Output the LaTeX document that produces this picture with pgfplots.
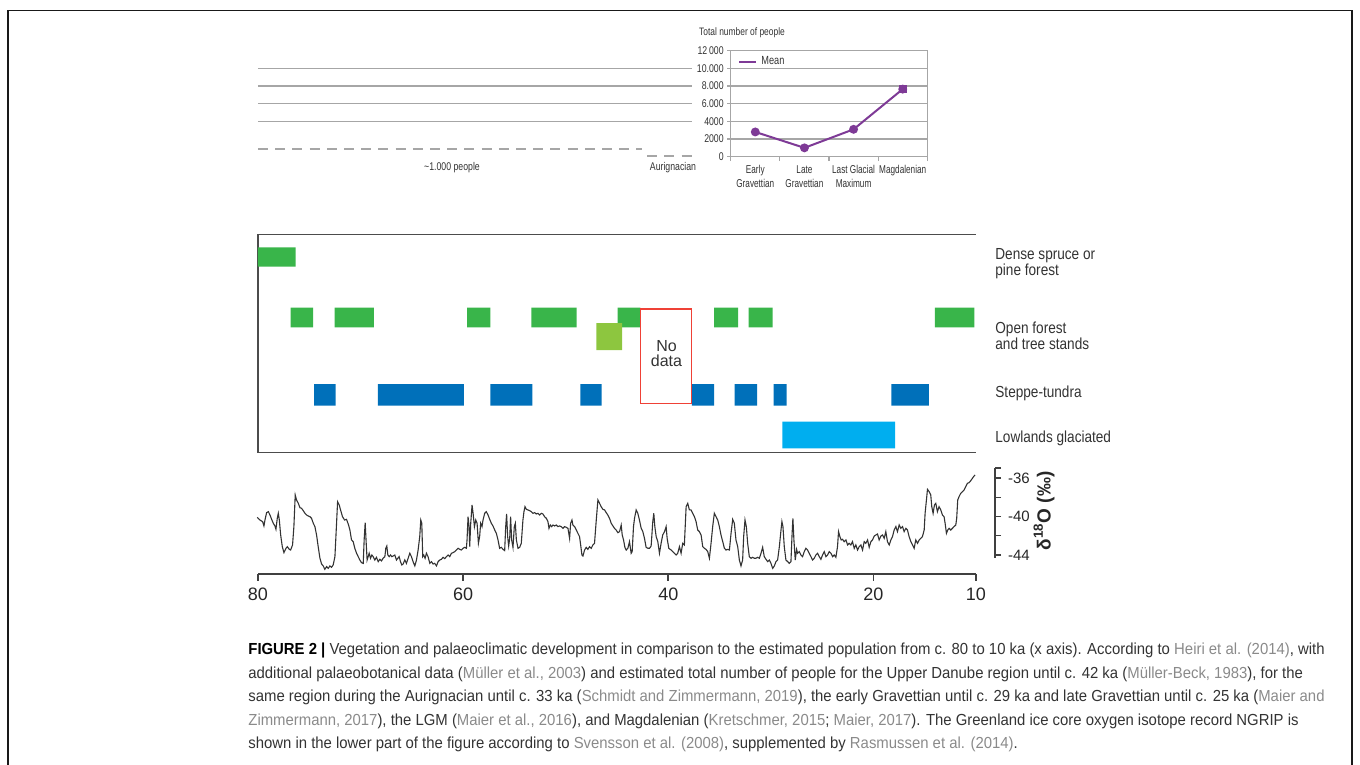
\documentclass[border=0pt]{standalone}
\usepackage{pgfplots}
\pgfplotsset{compat=1.18}
\usepackage{pgfplotstable}
\usepackage{graphicx}
\usepackage{fontspec}
\setmainfont{Liberation Sans}
\newfontfamily\narrowfont[FakeStretch=0.78]{Liberation Sans}
\newfontfamily\narrowerfont[FakeStretch=0.72]{Liberation Sans}
\newfontfamily\legfont[FakeStretch=0.85]{Liberation Sans}
\definecolor{gA}{HTML}{39B54A}
\definecolor{gL}{HTML}{8DC63F}
\definecolor{bS}{HTML}{0070BA}
\definecolor{bL}{HTML}{00AEEF}
\definecolor{rN}{HTML}{EF4136}
\definecolor{pM}{HTML}{7E3A96}
\definecolor{gl}{HTML}{A6A6A6}
\definecolor{tx}{HTML}{333333}
\definecolor{rg}{HTML}{8A8A8A}
\newcommand{\rf}[1]{\textcolor{rg}{#1}}
\newcommand{\vbar}[5]{\addplot[draw=none, fill=#1] coordinates {(#2,#4) (#3,#4) (#3,#5) (#2,#5) (#2,#4)};}

\pgfplotstableread{
t v
80.07 -40.07
79.81 -40.35
79.55 -40.52
79.42 -40.97
79.32 -40.35
79.16 -39.58
78.99 -39.48
78.83 -39.83
78.67 -40.28
78.51 -40.69
78.35 -40.97
78.25 -41.32
78.12 -40.17
78.02 -39.65
77.92 -40.35
77.79 -41.91
77.63 -43.13
77.47 -43.75
77.27 -43.30
77.14 -43.13
76.95 -43.41
76.82 -43.48
76.63 -42.95
76.50 -41.04
76.37 -37.74
76.24 -38.26
76.07 -38.61
75.91 -39.06
75.75 -39.13
75.59 -39.37
75.42 -39.65
75.26 -39.83
75.10 -39.93
74.94 -40.00
74.78 -40.17
74.61 -40.69
74.45 -41.04
74.29 -41.91
74.13 -43.13
73.96 -44.34
73.80 -44.94
73.64 -45.14
73.48 -45.49
73.31 -45.21
73.15 -45.39
72.99 -45.14
72.83 -45.28
72.67 -45.04
72.50 -44.17
72.34 -40.69
72.24 -38.44
72.08 -38.78
71.95 -39.30
71.76 -40.00
71.56 -40.35
71.37 -40.28
71.17 -40.87
71.04 -41.39
70.88 -42.43
70.72 -42.61
70.56 -43.30
70.39 -43.82
70.23 -44.17
70.07 -44.52
69.91 -44.80
69.74 -44.87
69.65 -42.43
69.55 -40.63
69.45 -42.78
69.36 -44.52
69.26 -44.17
69.16 -43.82
69.03 -44.34
68.90 -44.00
68.77 -44.17
68.61 -44.52
68.45 -44.24
68.28 -44.69
68.12 -44.45
67.96 -44.62
67.80 -44.34
67.63 -44.17
67.54 -43.30
67.44 -43.06
67.34 -44.00
67.21 -44.17
67.08 -44.00
66.95 -44.17
66.82 -44.10
66.66 -44.00
66.50 -44.52
66.37 -44.34
66.24 -44.17
66.11 -44.69
65.98 -45.04
65.85 -44.94
65.69 -44.52
65.53 -44.87
65.36 -44.34
65.20 -43.82
65.04 -44.17
64.88 -44.69
64.71 -45.14
64.55 -44.52
64.39 -43.48
64.23 -42.08
64.13 -40.35
64.03 -40.69
63.94 -44.17
63.84 -44.00
63.71 -44.34
63.58 -43.82
63.42 -44.17
63.25 -44.87
63.09 -44.69
62.93 -44.94
62.77 -44.87
62.60 -45.14
62.44 -44.69
62.28 -44.52
62.12 -44.45
61.96 -44.24
61.79 -44.38
61.63 -44.17
61.47 -44.00
61.31 -44.17
61.14 -43.82
60.98 -43.75
60.82 -43.65
60.66 -43.48
60.49 -43.30
60.33 -43.41
60.17 -43.48
60.01 -43.30
59.85 -43.20
59.68 -43.30
59.62 -42.43
59.52 -40.00
59.42 -41.04
59.36 -43.13
59.26 -40.69
59.13 -38.78
59.03 -39.65
58.90 -41.04
58.77 -40.35
58.64 -40.69
58.51 -42.78
58.39 -42.08
58.29 -40.69
58.16 -41.04
58.06 -40.35
57.90 -39.65
57.74 -39.48
57.57 -39.83
57.41 -40.28
57.25 -40.69
57.09 -40.97
56.92 -41.39
56.76 -41.74
56.60 -42.43
56.44 -43.30
56.28 -43.20
56.11 -43.41
55.95 -43.54
55.85 -41.04
55.76 -39.72
55.66 -42.08
55.56 -43.06
55.46 -42.26
55.37 -40.00
55.27 -42.43
55.14 -43.20
55.01 -41.04
54.91 -40.69
54.81 -42.43
54.65 -43.30
54.49 -43.20
54.33 -42.78
54.17 -40.35
54.07 -39.48
53.97 -38.96
53.84 -39.23
53.68 -39.30
53.52 -39.37
53.35 -39.48
53.19 -39.65
53.03 -39.58
52.87 -39.72
52.70 -39.65
52.54 -39.83
52.38 -39.65
52.22 -39.72
52.06 -40.00
51.89 -40.17
51.73 -40.52
51.63 -41.22
51.50 -40.87
51.37 -41.04
51.24 -40.87
51.08 -40.97
50.92 -40.87
50.76 -41.04
50.60 -40.97
50.43 -41.04
50.27 -41.22
50.11 -41.04
49.95 -41.11
49.78 -41.22
49.62 -42.26
49.52 -40.69
49.39 -40.35
49.30 -40.87
49.13 -41.04
48.97 -41.39
48.81 -41.74
48.65 -42.08
48.52 -43.13
48.42 -44.00
48.32 -44.10
48.16 -43.48
48.00 -43.20
47.84 -43.41
47.67 -43.13
47.51 -43.30
47.35 -42.95
47.19 -42.78
47.02 -40.35
46.86 -38.26
46.70 -38.61
46.54 -38.96
46.38 -39.23
46.21 -39.30
46.05 -39.58
45.89 -39.83
45.73 -40.17
45.56 -40.69
45.40 -40.97
45.24 -41.22
45.08 -41.39
44.91 -41.67
44.75 -41.56
44.59 -40.87
44.49 -41.91
44.36 -42.43
44.23 -43.20
44.10 -43.48
43.94 -43.30
43.78 -42.61
43.62 -43.82
43.52 -43.65
43.39 -41.04
43.29 -40.17
43.13 -39.30
42.97 -39.65
42.81 -40.35
42.64 -41.22
42.48 -41.56
42.32 -42.26
42.16 -43.20
41.99 -43.30
41.83 -43.30
41.67 -43.06
41.51 -40.52
41.41 -39.65
41.31 -41.04
41.18 -42.08
41.02 -42.61
40.86 -43.82
40.70 -42.78
40.54 -41.91
40.37 -41.56
40.21 -41.04
40.11 -42.26
39.95 -43.30
39.72 -43.48
39.56 -43.65
39.40 -43.82
39.24 -44.00
39.08 -43.82
38.91 -43.13
38.75 -43.82
38.59 -42.78
38.43 -42.95
38.26 -38.96
38.10 -38.61
37.94 -39.30
37.78 -39.30
37.62 -39.65
37.45 -40.00
37.29 -40.52
37.13 -41.39
36.97 -41.56
36.80 -41.91
36.64 -43.13
36.48 -43.30
36.32 -43.41
36.15 -43.65
35.99 -44.34
35.83 -42.78
35.67 -41.04
35.51 -39.65
35.34 -40.00
35.18 -40.35
35.02 -41.04
34.86 -41.91
34.69 -42.61
34.53 -43.30
34.37 -43.48
34.21 -43.41
34.04 -43.48
33.88 -41.74
33.72 -40.28
33.56 -40.69
33.40 -42.43
33.23 -43.13
33.07 -44.52
32.91 -45.14
32.75 -44.52
32.65 -42.08
32.52 -40.35
32.39 -41.04
32.26 -42.78
32.10 -44.17
31.93 -44.34
31.77 -44.24
31.61 -44.34
31.45 -44.34
31.28 -44.24
31.12 -44.34
30.96 -43.82
30.80 -43.20
30.64 -44.17
30.47 -44.45
30.31 -44.69
30.15 -44.52
29.99 -44.87
29.82 -45.39
29.66 -45.14
29.50 -44.69
29.34 -44.52
29.17 -43.13
29.01 -41.39
28.92 -40.52
28.82 -41.04
28.69 -43.13
28.53 -44.52
28.36 -44.69
28.20 -44.87
28.04 -44.69
27.94 -42.08
27.85 -40.17
27.75 -42.43
27.62 -44.52
27.49 -43.41
27.39 -43.82
27.23 -43.65
27.07 -44.00
26.91 -44.17
26.74 -43.65
26.58 -43.30
26.42 -43.48
26.26 -43.82
26.09 -44.17
25.93 -44.52
25.77 -44.34
25.61 -44.00
25.44 -43.82
25.28 -44.17
25.12 -44.45
24.96 -44.00
24.79 -43.65
24.63 -44.17
24.47 -44.00
24.31 -43.65
24.14 -43.82
23.98 -44.17
23.82 -44.00
23.66 -44.24
23.50 -43.13
23.40 -41.56
23.27 -42.08
23.14 -42.43
23.01 -42.36
22.85 -42.61
22.68 -42.43
22.52 -42.95
22.36 -42.78
22.20 -42.95
22.04 -42.61
21.87 -43.30
21.71 -42.95
21.55 -43.48
21.39 -43.13
21.22 -42.95
21.06 -43.48
20.90 -42.61
20.74 -42.78
20.57 -42.43
20.41 -43.20
20.25 -42.61
20.09 -42.43
19.92 -42.02
19.76 -41.91
19.60 -41.81
19.44 -42.43
19.27 -42.02
19.11 -41.91
18.95 -42.26
18.79 -41.56
18.63 -42.61
18.46 -42.95
18.30 -42.43
18.14 -42.08
17.98 -41.39
17.81 -41.04
17.65 -41.56
17.49 -40.87
17.33 -41.22
17.16 -41.04
17.00 -41.56
16.84 -41.22
16.68 -41.39
16.52 -42.08
16.35 -42.61
16.19 -42.95
16.03 -43.30
15.87 -42.43
15.70 -42.78
15.54 -42.43
15.38 -42.26
15.22 -42.08
15.05 -41.39
14.96 -39.65
14.83 -38.26
14.73 -37.15
14.57 -37.39
14.41 -37.74
14.31 -38.96
14.18 -39.65
14.05 -38.78
13.92 -38.61
13.76 -39.48
13.60 -38.96
13.43 -39.30
13.27 -39.83
13.11 -40.00
13.01 -40.69
12.88 -41.74
12.75 -41.39
12.62 -41.22
12.46 -41.39
12.30 -41.22
12.14 -41.04
11.97 -40.87
11.88 -40.17
11.78 -38.26
11.65 -37.91
11.49 -37.57
11.32 -37.39
11.16 -37.22
11.00 -36.87
10.84 -36.52
10.67 -36.45
10.51 -36.25
10.35 -36.00
10.19 -35.76
10.09 -35.65
}\iso

\newsavebox\capA
\newsavebox\capB
\newsavebox\capC
\newsavebox\capD
\newsavebox\capE

\begin{document}
\sbox\capA{\fontsize{8}{9}\selectfont\color{tx}\textbf{\textcolor{black}{FIGURE 2 |}} Vegetation and palaeoclimatic development in comparison to the estimated population from c. 80 to 10 ka (x axis). According to \rf{Heiri et al. (2014)}, with}%
\sbox\capB{\fontsize{8}{9}\selectfont\color{tx}additional palaeobotanical data (\rf{Müller et al., 2003}) and estimated total number of people for the Upper Danube region until c. 42 ka (\rf{Müller-Beck, 1983}), for the}%
\sbox\capC{\fontsize{8}{9}\selectfont\color{tx}same region during the Aurignacian until c. 33 ka (\rf{Schmidt and Zimmermann, 2019}), the early Gravettian until c. 29 ka and late Gravettian until c. 25 ka (\rf{Maier and}}%
\sbox\capD{\fontsize{8}{9}\selectfont\color{tx}\rf{Zimmermann, 2017}), the LGM (\rf{Maier et al., 2016}), and Magdalenian (\rf{Kretschmer, 2015}; \rf{Maier, 2017}). The Greenland ice core oxygen isotope record NGRIP is}%
\sbox\capE{\fontsize{8}{9}\selectfont\color{tx}shown in the lower part of the figure according to \rf{Svensson et al. (2008)}, supplemented by \rf{Rasmussen et al. (2014)}.}%
\dimen0=\wd\capA \advance\dimen0 by \wd\capB \advance\dimen0 by \wd\capC \advance\dimen0 by \wd\capD
\pgfmathsetmacro\capscale{2128.5/\the\dimen0}%
\begin{tikzpicture}
\useasboundingbox (0pt,0pt) rectangle (680pt,382.5pt);
\draw[line width=0.85pt, black!90] (4pt,-2.5pt) -- (4pt,377.25pt) -- (676pt,377.25pt) -- (676pt,-2.5pt);

% ---------- population, left extension ----------
\begin{axis}[at={(129pt,304.15pt)}, anchor=south west, scale only axis,
  width=220pt, height=53pt, xmin=37.16, xmax=80, x dir=reverse,
  ymin=0, ymax=12000, hide axis, clip=false]
\addplot[gl, line width=0.75pt] coordinates {(80,10000) (37.7,10000)};
\addplot[gl, line width=0.75pt] coordinates {(80,8000) (37.7,8000)};
\addplot[gl, line width=0.75pt] coordinates {(80,6000) (37.7,6000)};
\addplot[gl, line width=0.75pt] coordinates {(80,4000) (37.7,4000)};
\addplot[gl, line width=0.75pt, dash pattern=on 5pt off 3.6pt] coordinates {(80,870) (42.6,870)};
\addplot[gl, line width=0.75pt, dash pattern=on 5pt off 3.6pt] coordinates {(42.1,60) (37.16,60)};
\end{axis}
\node[font=\narrowfont\fontsize{5.6}{6}\selectfont, text=tx] at (226pt,298.5pt) {\textasciitilde1.000 people};
\node[font=\narrowfont\fontsize{5.6}{6}\selectfont, text=tx] at (336.5pt,298.5pt) {Aurignacian};
\node[font=\narrowfont\fontsize{5.4}{6}\selectfont, text=tx] at (371pt,366pt) {Total number of people};

% ---------- population inset ----------
\begin{axis}[at={(365.35pt,304.15pt)}, anchor=south west, scale only axis,
  width=98.3pt, height=53pt, xmin=-0.5, xmax=3.5, ymin=0, ymax=12000,
  scaled y ticks=false,
  axis line style={gl, line width=0.6pt},
  ymajorgrids, grid style={gl, line width=0.6pt},
  ytick={0,2000,4000,6000,8000,10000,12000},
  yticklabels={0,2000,4000,6.000,8.000,10.000,12\,000},
  y tick label style={font=\narrowfont\fontsize{5.6}{6}\selectfont, text=tx, inner xsep=1.5pt},
  xtick={0,1,2,3},
  xticklabels={Early\\Gravettian, Late\\Gravettian, Last Glacial\\Maximum, Magdalenian},
  x tick label style={align=center, font=\narrowerfont\fontsize{5.7}{7}\selectfont, text=tx, inner ysep=2.5pt},
  minor xtick={-0.5,0.5,1.5,2.5,3.5},
  tick pos=left, tick align=outside, major tick length=1.8pt, minor tick length=2.2pt,
  every major x tick/.append style={draw=none},
  every tick/.append style={gl, line width=0.6pt},
  legend style={at={(0.037,0.896)}, anchor=west, draw=none, fill=none, inner sep=0pt,
    font=\narrowfont\fontsize{5.9}{6}\selectfont, text=tx},
  legend image code/.code={\draw[#1] (0pt,0pt) -- (8.5pt,0pt);},
  clip=false]
\addplot[pM, line width=1pt, mark=*, mark size=1.7pt, forget plot]
  coordinates {(0,2800) (1,1000) (2,3100) (3,7650)};
\addplot[pM, only marks, mark=square*, mark size=1.8pt, forget plot]
  coordinates {(3,7650)};
\addlegendimage{pM, line width=1pt}
\addlegendentry{Mean}
\end{axis}

% ---------- vegetation ----------
\begin{axis}[at={(129pt,156.15pt)}, anchor=south west, scale only axis,
  width=359pt, height=109pt, xmin=10, xmax=80, x dir=reverse,
  ymin=0, ymax=10, hide axis, clip=false]
\draw[black!70, line width=0.75pt] (axis cs:10,10) -- (axis cs:80,10) -- (axis cs:80,0) -- (axis cs:10,0);
% dense spruce or pine forest
\vbar{gA}{80}{76.33}{8.53}{9.42}
% open forest
\vbar{gA}{76.82}{74.62}{5.75}{6.65}
\vbar{gA}{72.53}{68.71}{5.75}{6.65}
\vbar{gA}{59.62}{57.34}{5.75}{6.65}
\vbar{gA}{53.35}{48.94}{5.75}{6.65}
\vbar{gA}{44.95}{42.71}{5.75}{6.65}
\vbar{gA}{35.54}{33.20}{5.75}{6.65}
\vbar{gA}{32.17}{29.83}{5.75}{6.65}
\vbar{gA}{14.02}{10.16}{5.75}{6.65}
\vbar{gL}{47.00}{44.49}{4.71}{5.94}
% steppe-tundra
\vbar{bS}{74.52}{72.44}{2.16}{3.15}
\vbar{bS}{68.32}{59.94}{2.16}{3.15}
\vbar{bS}{57.34}{53.25}{2.16}{3.15}
\vbar{bS}{48.58}{46.51}{2.16}{3.15}
\vbar{bS}{37.71}{35.54}{2.16}{3.15}
\vbar{bS}{33.53}{31.35}{2.16}{3.15}
\vbar{bS}{29.73}{28.47}{2.16}{3.15}
\vbar{bS}{18.25}{14.60}{2.16}{3.15}
% lowlands glaciated
\vbar{bL}{28.88}{17.88}{0.20}{1.42}
% no data
\addplot[rN, line width=0.6pt, no marks] coordinates {(42.71,2.24) (37.71,2.24) (37.71,6.59) (42.71,6.59) (42.71,2.24)};
\end{axis}
\node[anchor=base, font=\fontsize{8}{9}\selectfont, text=tx] at (333.25pt,206.75pt) {No};
\node[anchor=base, font=\fontsize{8}{9}\selectfont, text=tx] at (333.25pt,199.25pt) {data};
\node[anchor=base west, inner sep=0pt, font=\legfont\fontsize{8}{9}\selectfont, text=tx] at (497.5pt,252.75pt) {Dense spruce or};
\node[anchor=base west, inner sep=0pt, font=\legfont\fontsize{8}{9}\selectfont, text=tx] at (497.5pt,244.75pt) {pine forest};
\node[anchor=base west, inner sep=0pt, font=\legfont\fontsize{8}{9}\selectfont, text=tx] at (497.5pt,215.5pt) {Open forest};
\node[anchor=base west, inner sep=0pt, font=\legfont\fontsize{8}{9}\selectfont, text=tx] at (497.5pt,207.5pt) {and tree stands};
\node[anchor=base west, inner sep=0pt, font=\legfont\fontsize{8}{9}\selectfont, text=tx] at (497.5pt,183.75pt) {Steppe-tundra};
\node[anchor=base west, inner sep=0pt, font=\legfont\fontsize{8}{9}\selectfont, text=tx] at (497.5pt,161pt) {Lowlands glaciated};

% ---------- isotope curve ----------
\begin{axis}[at={(129pt,95.5pt)}, anchor=south west, scale only axis,
  width=359pt, height=57pt, xmin=10, xmax=80, x dir=reverse,
  ymin=-45.98, ymax=-34.09, axis x line*=bottom, axis y line=none,
  x axis line style={-, line width=0.8pt, black!75},
  xtick={80,60,40,20,10}, tick align=outside, major tick length=3.5pt,
  x tick style={line width=0.8pt, black!75},
  xticklabel style={font=\fontsize{9}{10}\selectfont, text=black!85},
  /pgf/number format/assume math mode=true, clip=false]
\addplot[black!80, line width=0.55pt, no marks] table {\iso};
\end{axis}
\begin{axis}[at={(497.5pt,103.5pt)}, anchor=south east, scale only axis,
  width=0.5pt, height=45pt, xmin=0, xmax=1, ymin=-44.31, ymax=-34.96,
  axis y line*=right, axis x line=none,
  y axis line style={-, line width=0.7pt, black!75},
  ytick={-36,-40,-44}, minor ytick={-38,-42},
  extra y ticks={-34.96}, extra y tick labels={},
  tick align=outside, major tick length=3pt, minor tick length=3pt,
  y tick style={line width=0.7pt, black!75},
  yticklabel style={font=\fontsize{7.5}{8}\selectfont, text=black!85},
  /pgf/number format/assume math mode=true]
\addplot[draw=none] coordinates {(0,-40)};
\end{axis}
\node[rotate=90, font=\bfseries\fontsize{9.5}{10}\selectfont, text=black!85] at (522pt,127pt) {δ\textsuperscript{18}O (‰)};

% ---------- caption ----------
\node[anchor=base west, inner sep=0pt] at (124pt,55pt) {\scalebox{\capscale}[1]{\usebox\capA}};
\node[anchor=base west, inner sep=0pt] at (124pt,43.25pt) {\scalebox{\capscale}[1]{\usebox\capB}};
\node[anchor=base west, inner sep=0pt] at (124pt,31.5pt) {\scalebox{\capscale}[1]{\usebox\capC}};
\node[anchor=base west, inner sep=0pt] at (124pt,19.75pt) {\scalebox{\capscale}[1]{\usebox\capD}};
\node[anchor=base west, inner sep=0pt] at (124pt,8pt) {\scalebox{\capscale}[1]{\usebox\capE}};
\end{tikzpicture}
\end{document}
